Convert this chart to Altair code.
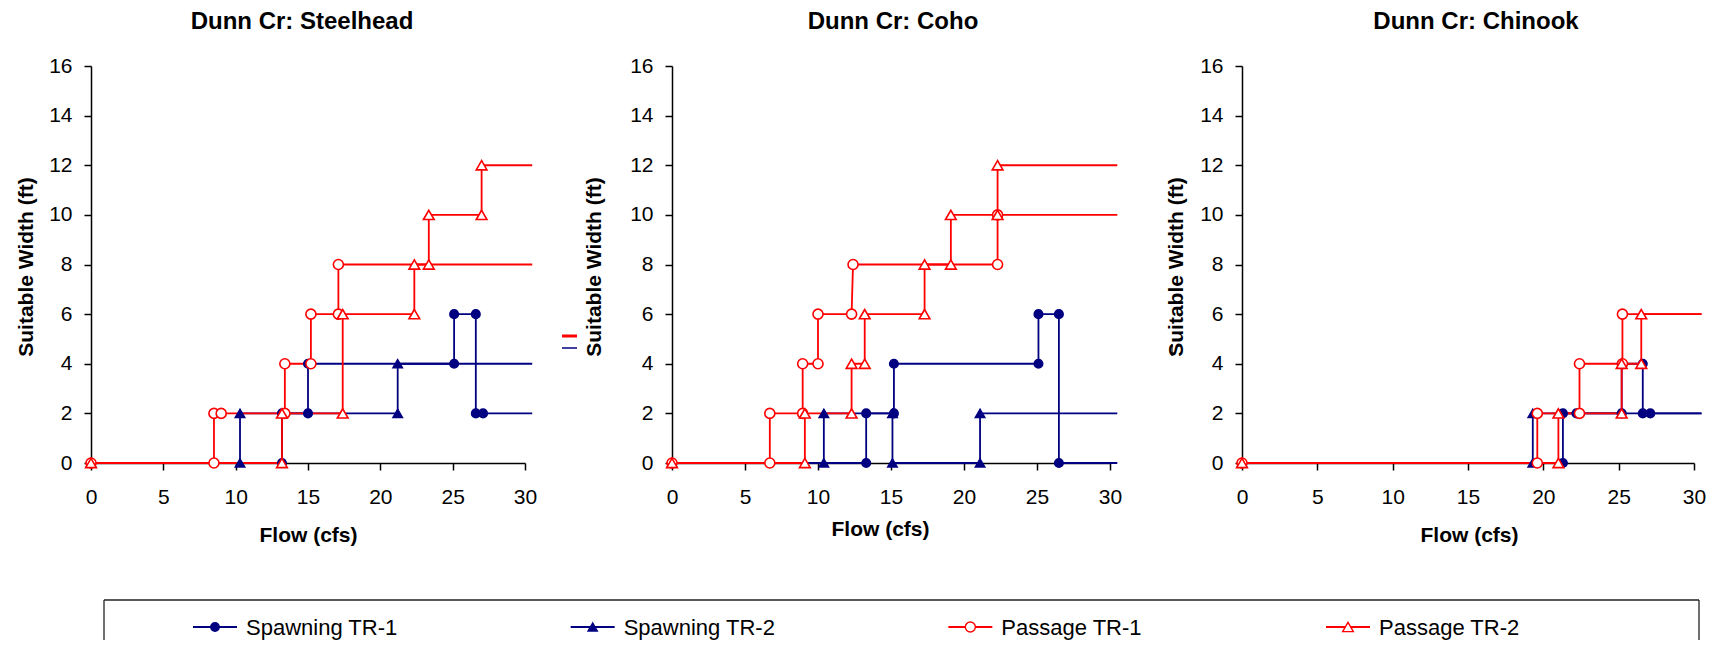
import altair as alt
import pandas as pd

# ---------------- data ----------------
SERIES = ["Spawning TR-1", "Spawning TR-2", "Passage TR-1", "Passage TR-2"]
PANEL_TITLES = ["Dunn Cr: Steelhead", "Dunn Cr: Coho", "Dunn Cr: Chinook"]
X_TICKS = [0, 5, 10, 15, 20, 25, 30]
Y_TICKS = [0, 2, 4, 6, 8, 10, 12, 14, 16]
X_END = 30.5  # lines run on past the last point

# Steelhead
sh_sp1_x = [0, 13.2, 13.2, 15.0, 15.0, 25.1, 25.1, 26.6, 26.6, 27.1]
sh_sp1_y = [0, 0, 2, 2, 4, 4, 6, 6, 2, 2]
sh_sp2_x = [0, 10.3, 10.3, 21.2, 21.2]
sh_sp2_y = [0, 0, 2, 2, 4]
sh_pa1_x = [0, 8.5, 8.5, 9.0, 13.4, 13.4, 15.2, 15.2, 17.1, 17.1]
sh_pa1_y = [0, 0, 2, 2, 2, 4, 4, 6, 6, 8]
sh_pa2_x = [0, 13.2, 13.2, 17.4, 17.4, 22.35, 22.35, 23.35, 23.35, 27.0, 27.0]
sh_pa2_y = [0, 0, 2, 2, 6, 6, 8, 8, 10, 10, 12]

# Coho
co_sp1_x = [0, 13.3, 13.3, 15.2, 15.2, 25.1, 25.1, 26.5, 26.5]
co_sp1_y = [0, 0, 2, 2, 4, 4, 6, 6, 0]
co_sp2_x = [0, 10.4, 10.4, 15.1, 15.1, 21.1, 21.1]
co_sp2_y = [0, 0, 2, 2, 0, 0, 2]
co_pa1_x = [0, 6.7, 6.7, 8.95, 8.95, 10.0, 10.0, 12.3, 12.4, 22.3, 22.3]
co_pa1_y = [0, 0, 2, 2, 4, 4, 6, 6, 8, 8, 10]
co_pa2_x = [0, 9.1, 9.1, 12.3, 12.3, 13.2, 13.2, 17.3, 17.3, 19.1, 19.1, 22.3, 22.3]
co_pa2_y = [0, 0, 2, 2, 4, 4, 6, 6, 8, 8, 10, 10, 12]

# Chinook
ch_sp1_x = [0, 21.3, 21.3, 22.2, 25.2, 25.2, 26.6, 26.6, 27.1]
ch_sp1_y = [0, 0, 2, 2, 2, 4, 4, 2, 2]
ch_sp2_x = [0, 19.3, 19.3]
ch_sp2_y = [0, 0, 2]
ch_pa1_x = [0, 19.6, 19.6, 22.4, 22.4, 25.25, 25.25]
ch_pa1_y = [0, 0, 2, 2, 4, 4, 6]
ch_pa2_x = [0, 21.0, 21.0, 25.2, 25.2, 26.5, 26.5]
ch_pa2_y = [0, 0, 2, 2, 4, 4, 6]

PANELS = [
    [(sh_sp1_x, sh_sp1_y), (sh_sp2_x, sh_sp2_y), (sh_pa1_x, sh_pa1_y), (sh_pa2_x, sh_pa2_y)],
    [(co_sp1_x, co_sp1_y), (co_sp2_x, co_sp2_y), (co_pa1_x, co_pa1_y), (co_pa2_x, co_pa2_y)],
    [(ch_sp1_x, ch_sp1_y), (ch_sp2_x, ch_sp2_y), (ch_pa1_x, ch_pa1_y), (ch_pa2_x, ch_pa2_y)],
]

rows = []
for p, plist in enumerate(PANELS):
    for s, (xs, ys) in zip(SERIES, plist):
        for i, (xv, yv) in enumerate(zip(xs, ys)):
            rows.append(dict(panel=p, series=s, x=xv, y=yv, idx=i, marker=True))
        rows.append(dict(panel=p, series=s, x=X_END, y=ys[-1], idx=len(xs), marker=False))
df = pd.DataFrame(rows)

# ---------------- layout / style ----------------
W, H = 1701, 632
X_RANGES = [(83, 517), (664, 1102), (1234, 1686)]
Y_RANGE = [455, 58]
Y_TITLE_X = [-59, -72, -60]
X_TITLE_X = [300, 872, 1461]
X_TITLE_Y = [78.5, 72, 78.5]
TITLE_DX = [-6, 2, 8]

NAVY = "#000080"
RED = "#FF0000"
stroke_scale = alt.Scale(domain=SERIES, range=[NAVY, NAVY, RED, RED])
fill_scale = alt.Scale(domain=SERIES, range=[NAVY, NAVY, "#FFFFFF", "#FFFFFF"])
shape_scale = alt.Scale(domain=SERIES, range=["circle", "triangle-up", "circle", "triangle-up"])
size_scale = alt.Scale(domain=SERIES, range=[72, 115, 72, 115])
leg_size_scale = alt.Scale(domain=SERIES, range=[48, 75, 48, 75])

FONT = "Liberation Sans"


def panel(p):
    x0, x1 = X_RANGES[p]
    x_enc = alt.X(
        "x:Q",
        scale=alt.Scale(domain=[0, 30], range=[x0, x1], nice=False, zero=False),
        axis=alt.Axis(
            values=X_TICKS, orient="bottom", offset=-(H - Y_RANGE[0]),
            title="Flow (cfs)", titleX=X_TITLE_X[p], titleY=X_TITLE_Y[p],
            titleBaseline="alphabetic", titleAlign="center",
            titleFontSize=21, titleFontWeight="bold", titleColor="black",
            labelFontSize=21, labelColor="black", labelPadding=16, labelFlush=False,
            labelOverlap=False, tickSize=7, tickWidth=1.5, tickColor="black",
            domainColor="black", domainWidth=1.5, grid=False,
        ),
    )
    y_enc = alt.Y(
        "y:Q",
        scale=alt.Scale(domain=[0, 16], range=Y_RANGE, nice=False, zero=False),
        axis=alt.Axis(
            values=Y_TICKS, orient="left", offset=-x0,
            title="Suitable Width (ft)", titleX=Y_TITLE_X[p], titleY=(Y_RANGE[0] + Y_RANGE[1]) / 2 + 2,
            titleAngle=-90, titleBaseline="alphabetic", titleAlign="center",
            titleFontSize=21, titleFontWeight="bold", titleColor="black",
            labelFontSize=21, labelColor="black", labelPadding=12, labelOverlap=False,
            tickSize=7, tickWidth=1.5, tickColor="black",
            domainColor="black", domainWidth=1.5, grid=False,
        ),
    )
    base = alt.Chart(df[df.panel == p])
    lines = base.mark_line(strokeWidth=1.8).encode(
        x=x_enc, y=y_enc,
        stroke=alt.Stroke("series:N", scale=stroke_scale, legend=None),
        detail="series:N",
        order="idx:Q",
    )
    pts = base.transform_filter("datum.marker").mark_point(
        strokeWidth=1.6, filled=True, opacity=1, fillOpacity=1, strokeOpacity=1
    ).encode(
        x=x_enc, y=y_enc,
        shape=alt.Shape("series:N", scale=shape_scale, legend=None),
        fill=alt.Fill("series:N", scale=fill_scale, legend=None),
        stroke=alt.Stroke("series:N", scale=stroke_scale, legend=None),
        size=alt.Size("series:N", scale=size_scale, legend=None),
    )
    tdf = pd.DataFrame({"x": [15], "title": [PANEL_TITLES[p]]})
    title = alt.Chart(tdf).mark_text(
        fontSize=24, fontWeight="bold", baseline="alphabetic", align="center",
        dx=TITLE_DX[p], color="black",
    ).encode(x=x_enc, y=alt.value(20.5), text="title:N")
    return alt.layer(lines, pts, title)


# ---------------- legend ----------------
ldf = pd.DataFrame({"series": SERIES})
lx = alt.X("series:N", scale=alt.Scale(type="point", domain=SERIES, range=[207, 1340], padding=0), axis=None)
LY = 619
leg_line = alt.Chart(ldf).mark_point(shape="M-1,0L1,0", size=44 * 44, strokeWidth=1.8, opacity=1).encode(
    x=lx, y=alt.value(LY), stroke=alt.Stroke("series:N", scale=stroke_scale, legend=None)
)
leg_pts = alt.Chart(ldf).mark_point(strokeWidth=1.4, filled=True, opacity=1).encode(
    x=lx, y=alt.value(LY),
    shape=alt.Shape("series:N", scale=shape_scale, legend=None),
    fill=alt.Fill("series:N", scale=fill_scale, legend=None),
    stroke=alt.Stroke("series:N", scale=stroke_scale, legend=None),
    size=alt.Size("series:N", scale=leg_size_scale, legend=None),
)
leg_txt = alt.Chart(ldf).mark_text(align="left", baseline="alphabetic", dx=31, fontSize=22, color="black").encode(
    x=lx, y=alt.value(LY + 7.5), text="series:N"
)
one = pd.DataFrame({"a": [0]})
frame_top = alt.Chart(one).mark_rule(color="#222222", strokeWidth=1.3).encode(
    x=alt.value(96), x2=alt.value(1691), y=alt.value(592)
)
frame_left = alt.Chart(one).mark_rule(color="#222222", strokeWidth=1.3).encode(
    x=alt.value(96), y=alt.value(592), y2=alt.value(700)
)
frame_right = alt.Chart(one).mark_rule(color="#222222", strokeWidth=1.3).encode(
    x=alt.value(1691), y=alt.value(592), y2=alt.value(700)
)
# small stray legend-key remnants seen between the panels
stray_red = alt.Chart(one).mark_rule(color=RED, strokeWidth=3).encode(
    x=alt.value(554), x2=alt.value(569), y=alt.value(328)
)
stray_blue = alt.Chart(one).mark_rule(color=NAVY, strokeWidth=1.5).encode(
    x=alt.value(554), x2=alt.value(569), y=alt.value(340)
)
stray_black = alt.Chart(one).mark_rule(color="black", strokeWidth=1.2).encode(
    x=alt.value(1164), y=alt.value(336), y2=alt.value(348)
)
legend = alt.layer(frame_top, frame_left, frame_right, stray_red, stray_blue, stray_black,
                   leg_line, leg_pts, leg_txt)

chart = (
    alt.layer(panel(0), panel(1), panel(2), legend)
    .resolve_scale(x="independent", y="independent")
    .properties(width=W, height=H, autosize=alt.AutoSizeParams(type="none"), padding=0)
    .configure(font=FONT)
    .configure_view(stroke=None)
)

chart.save("out.html", embed_options={"renderer": "svg", "actions": False})
